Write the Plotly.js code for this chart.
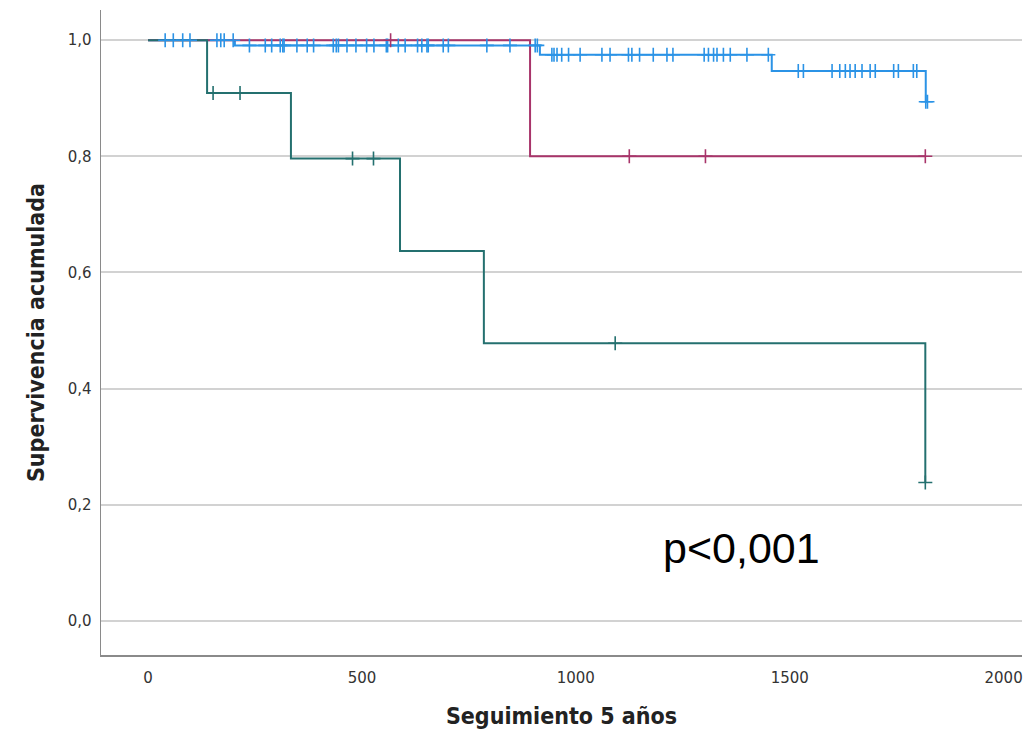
<!DOCTYPE html>
<html>
<head>
<meta charset="utf-8">
<script src="https://cdn.plot.ly/plotly-3.0.1.min.js"></script>
<style>html,body{margin:0;padding:0;background:#fff;}#chart{width:1025px;height:735px;}</style>
</head>
<body>
<div id="chart"></div>
<script>
// Group 1 (blue)
const blueEventTimes = [0, 203, 916, 1458, 1818];
const blueSurvival   = [1.0, 0.991, 0.975, 0.947, 0.894];
const blueCensorTimes = [40, 59, 81, 98, 161, 170, 178, 199,
  237, 274, 289, 309, 315, 318, 348, 372, 387, 433, 440, 445, 465, 486, 511, 528, 557, 560, 585, 601, 630, 640, 652, 655, 690, 702, 792, 846, 905, 910,
  944, 949, 956, 967, 983, 1010, 1061, 1080, 1123, 1131, 1149, 1181, 1213, 1227, 1300, 1310, 1322, 1330, 1345, 1361, 1400, 1450,
  1520, 1532, 1599, 1617, 1630, 1641, 1653, 1669, 1688, 1700, 1743, 1754, 1789, 1797, 1818, 1822];

// Group 2 (magenta)
const magEventTimes = [0, 893];
const magSurvival   = [1.0, 0.8];
const magCensorTimes = [567, 1125, 1303, 1817];

// Group 3 (teal)
const tealEventTimes = [0, 138, 334, 589, 785, 1817];
const tealSurvival   = [1.0, 0.909, 0.796, 0.637, 0.478, 0.238];
const tealCensorTimes = [152, 215, 478, 527, 1092, 1817];

const xTickVals = [0, 500, 1000, 1500, 2000];
const xTickText = ['0', '500', '1000', '1500', '2000'];
const yTickVals = [0, 0.2, 0.4, 0.6, 0.8, 1.0];
const yTickText = ['0,0', '0,2', '0,4', '0,6', '0,8', '1,0'];

const pValueText = 'p<0,001';

function survAt(times, surv, t) {
  let s = surv[0];
  for (let i = 0; i < times.length; i++) { if (times[i] <= t) s = surv[i]; }
  return s;
}
function lineTrace(times, surv, censors, color) {
  const end = Math.max(times[times.length - 1], Math.max.apply(null, censors));
  const x = times.slice(); const y = surv.slice();
  if (end > x[x.length - 1]) { x.push(end); y.push(y[y.length - 1]); }
  return {x: x, y: y, type: 'scatter', mode: 'lines', line: {shape: 'hv', color: color, width: 2}, hoverinfo: 'skip', showlegend: false};
}
function censorTrace(times, surv, censors, color) {
  return {x: censors, y: censors.map(t => survAt(times, surv, t)), type: 'scatter', mode: 'markers',
    marker: {symbol: 'cross-thin', size: 10, color: color, line: {color: color, width: 1.6}}, hoverinfo: 'skip', showlegend: false};
}

const cBlue = '#2b93e6', cMag = '#a8346a', cTeal = '#24706f';
const data = [
  lineTrace(blueEventTimes, blueSurvival, blueCensorTimes, cBlue),
  lineTrace(magEventTimes, magSurvival, magCensorTimes, cMag),
  lineTrace(tealEventTimes, tealSurvival, tealCensorTimes, cTeal),
  censorTrace(blueEventTimes, blueSurvival, blueCensorTimes, cBlue),
  censorTrace(magEventTimes, magSurvival, magCensorTimes, cMag),
  censorTrace(tealEventTimes, tealSurvival, tealCensorTimes, cTeal)
];

const layout = {
  width: 1025, height: 735,
  margin: {l: 101, r: 3, t: 10, b: 80},
  paper_bgcolor: '#fff', plot_bgcolor: '#fff',
  xaxis: {
    range: [-110, 2043], tickvals: xTickVals, ticktext: xTickText,
    showgrid: false, zeroline: false, showline: true, linecolor: '#8a8a8a', linewidth: 1.5,
    ticks: '', ticklabelstandoff: 8,
    tickfont: {family: 'DejaVu Sans', size: 15, color: '#333'},
    title: {text: 'Seguimiento 5 años', standoff: 22, font: {family: 'DejaVu Sans Condensed, DejaVu Sans', size: 23, color: '#222', weight: 'bold'}}
  },
  yaxis: {
    range: [-0.059, 1.052], tickvals: yTickVals, ticktext: yTickText,
    showgrid: true, gridcolor: '#d2d2d2', gridwidth: 2, zeroline: false,
    showline: true, linecolor: '#8a8a8a', linewidth: 1.5,
    ticks: '', ticklabelstandoff: 5,
    tickfont: {family: 'DejaVu Sans', size: 15, color: '#333'},
    title: {text: 'Supervivencia acumulada', standoff: 16, font: {family: 'DejaVu Sans Condensed, DejaVu Sans', size: 23, color: '#222', weight: 'bold'}}
  },
  annotations: [{
    x: 1200, y: 0.126, xref: 'x', yref: 'y', xanchor: 'left', yanchor: 'middle',
    text: pValueText, showarrow: false,
    font: {family: 'Liberation Sans, Arial', size: 43, color: '#000'}
  }]
};

Plotly.newPlot('chart', data, layout, {displayModeBar: false, staticPlot: true});
</script>
</body>
</html>
